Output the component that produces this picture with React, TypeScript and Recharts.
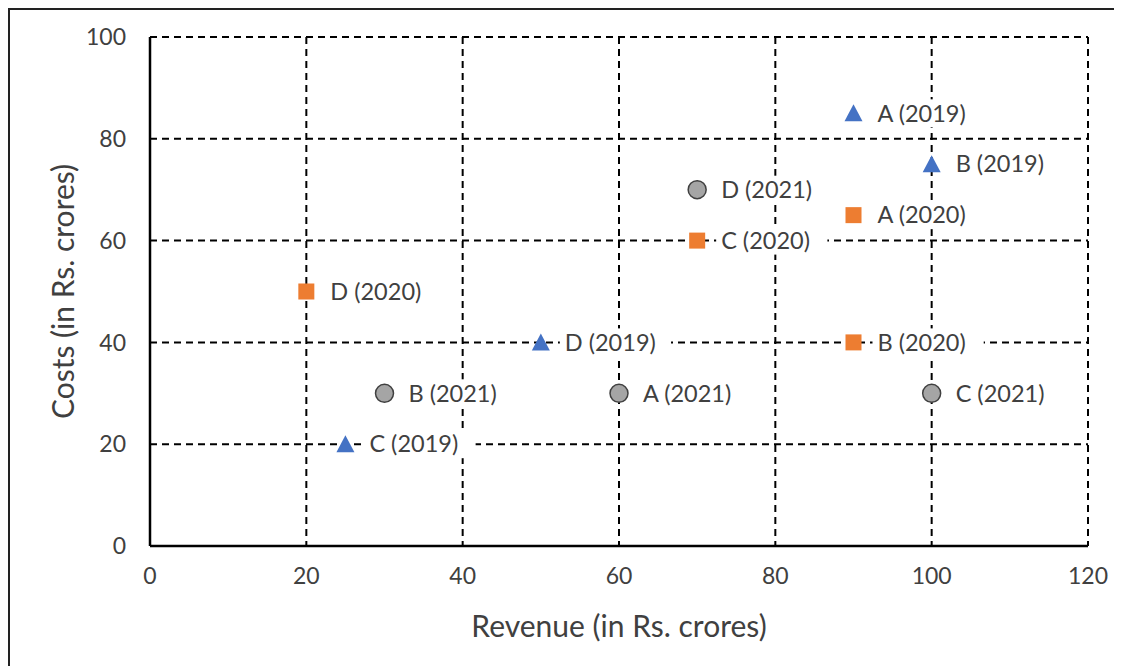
import { ScatterChart, Scatter, XAxis, YAxis, CartesianGrid, LabelList } from 'recharts';

// points are [revenue, costs]
const companies = ['A', 'B', 'C', 'D'];
const revenue2019 = [90, 100, 25, 50];
const costs2019 = [85, 75, 20, 40];
const revenue2020 = [90, 90, 70, 20];
const costs2020 = [65, 40, 60, 50];
const revenue2021 = [60, 30, 100, 70];
const costs2021 = [30, 30, 30, 70];

const xTicks = [0, 20, 40, 60, 80, 100, 120];
const yTicks = [0, 20, 40, 60, 80, 100];

const build = (xs: number[], ys: number[], year: string) =>
  companies.map((c, i) => ({ x: xs[i], y: ys[i], name: `${c} (${year})` }));

const data2019 = build(revenue2019, costs2019, '2019');
const data2020 = build(revenue2020, costs2020, '2020');
const data2021 = build(revenue2021, costs2021, '2021');

const FONT = 'Lato, "Open Sans", sans-serif';
const TEXT = '#404040';

const Triangle = (props: any) => {
  const { cx, cy } = props;
  return <path d={`M${cx},${cy - 9} L${cx + 9},${cy + 8} L${cx - 9},${cy + 8} Z`} fill="#4472c4" />;
};

const Square = (props: any) => {
  const { cx, cy } = props;
  return <rect x={cx - 8} y={cy - 8} width={16} height={16} fill="#ed7d31" />;
};

const Circle = (props: any) => {
  const { cx, cy } = props;
  return <circle cx={cx} cy={cy} r={9} fill="#a5a5a5" stroke="#404040" strokeWidth={1.5} />;
};

// label with a white box behind it, so the gridlines break around the text
const PointLabel = (props: any) => {
  const { x, y, width, height, value } = props;
  const cx = x + (width || 0) / 2;
  const cy = y + (height || 0) / 2;
  const w = String(value).length * 12.4 + 12;
  return (
    <g>
      <rect x={cx + 19} y={cy - 14} width={w} height={28} fill="#fff" />
      <text x={cx + 24} y={cy} dy="0.35em" fill={TEXT} fontSize={23.5} fontFamily={FONT}>
        {value}
      </text>
    </g>
  );
};

export default function App() {
  return (
    <div
      style={{
        width: 1112,
        height: 656,
        borderLeft: '2px solid #222',
        borderTop: '2px solid #222',
        background: '#fff',
      }}
    >
      <ScatterChart width={1112} height={656} margin={{ top: 27, right: 34, left: 80, bottom: 60 }}>
        <CartesianGrid stroke="#000" strokeWidth={2} strokeDasharray="7 5" />
        <XAxis
          type="number"
          dataKey="x"
          domain={[0, 120]}
          ticks={xTicks}
          height={60}
          tickLine={false}
          tickSize={0}
          tickMargin={22}
          axisLine={{ stroke: '#000', strokeWidth: 2.5 }}
          tick={{ fill: TEXT, fontSize: 23, fontFamily: FONT }}
          label={{
            value: 'Revenue (in Rs. crores)',
            position: 'insideBottom',
            offset: -31,
            fill: TEXT,
            fontSize: 30,
            fontFamily: FONT,
          }}
        />
        <YAxis
          type="number"
          dataKey="y"
          domain={[0, 100]}
          ticks={yTicks}
          width={60}
          tickLine={false}
          tickSize={0}
          tickMargin={24}
          axisLine={{ stroke: '#000', strokeWidth: 2.5 }}
          tick={{ fill: TEXT, fontSize: 23, fontFamily: FONT }}
          label={{
            value: 'Costs (in Rs. crores)',
            angle: -90,
            position: 'insideLeft',
            offset: -27,
            style: { textAnchor: 'middle' },
            fill: TEXT,
            fontSize: 30,
            fontFamily: FONT,
          }}
        />
        <Scatter data={data2019} shape={Triangle} isAnimationActive={false}>
          <LabelList dataKey="name" content={PointLabel} />
        </Scatter>
        <Scatter data={data2020} shape={Square} isAnimationActive={false}>
          <LabelList dataKey="name" content={PointLabel} />
        </Scatter>
        <Scatter data={data2021} shape={Circle} isAnimationActive={false}>
          <LabelList dataKey="name" content={PointLabel} />
        </Scatter>
      </ScatterChart>
    </div>
  );
}
